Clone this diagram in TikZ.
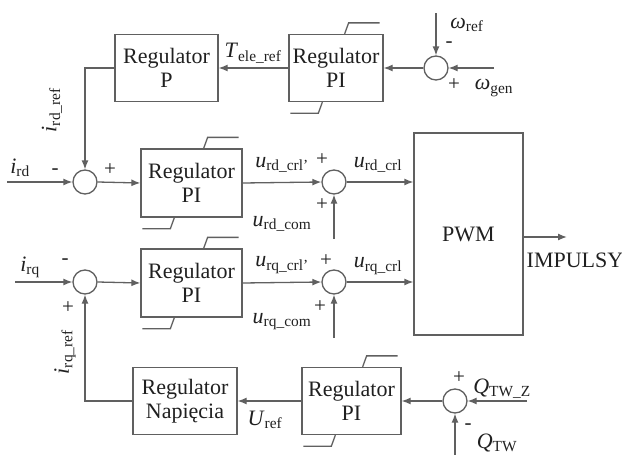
\documentclass[tikz,border=0pt]{standalone}
\usepackage{fontspec}
\setmainfont{Liberation Serif}
\usetikzlibrary{arrows.meta,calc}
\definecolor{ln}{HTML}{606060}
\definecolor{tx}{HTML}{202020}
\begin{document}
\begin{tikzpicture}[x=1pt,y=-1pt,
  every node/.style={text=tx,font=\fontsize{22}{24}\selectfont},
  box/.style={draw=ln,line width=1.3pt,rectangle,align=center,inner sep=0pt},
  sumj/.style={draw=ln,line width=1.3pt,circle,minimum size=24pt,inner sep=0pt},
  arr/.style={draw=ln,line width=1.3pt,-{Latex[length=9pt,width=7pt]}},
  ln/.style={draw=ln,line width=1.3pt},
  lbl/.style={inner sep=0pt},
  sgn/.style={inner sep=0pt,font=\fontsize{21}{22}\selectfont}]
\useasboundingbox (0,0) rectangle (622,455);
% blocks
\node[box,minimum width=103pt,minimum height=67pt] (P) at (166.5,68) {Regulator\\P};
\node[box,minimum width=94pt,minimum height=67pt] (PI1) at (336,68) {Regulator\\PI};
\node[sumj] (S1) at (436,68) {};
\node[sumj] (S2) at (85,182) {};
\node[box,minimum width=101pt,minimum height=68pt] (PI2) at (191.5,183) {Regulator\\PI};
\node[sumj] (S3) at (334,182) {};
\node[box,minimum width=109pt,minimum height=202pt] (PWM) at (468.5,234) {PWM};
\node[sumj] (S4) at (85,282) {};
\node[box,minimum width=101pt,minimum height=68pt] (PI3) at (191.5,283) {Regulator\\PI};
\node[sumj] (S5) at (334,282) {};
\node[box,minimum width=104pt,minimum height=67pt] (Nap) at (185,401) {Regulator\\Napięcia};
\node[box,minimum width=99pt,minimum height=67pt] (PI4) at (351.5,401) {Regulator\\PI};
\node[sumj] (S6) at (455,401) {};
% limiters
\foreach \b in {PI1,PI2,PI3,PI4}{
  \draw[ln] ($(\b.north east)+(-39,0)$) -- ++(4,-11) -- ($(\b.north east)+(-4,-11)$);
  \draw[ln] ($(\b.south west)+(2,11)$) -- ++(28,0) -- ++(4,-11);
}
% free ends
\coordinate (wref) at (436,13);
\coordinate (wgen) at (494,68);
\coordinate (ird) at (7,182);
\coordinate (urdcom) at (334,239);
\coordinate (imp) at (567,237);
\coordinate (irq) at (15,282);
\coordinate (urqcom) at (334,338);
\coordinate (qtwz) at (527,401);
\coordinate (qtw) at (455,455);
% connectors
\draw[arr] (wref) -- (S1.north);
\draw[arr] (wgen) -- (S1.east);
\draw[arr] (S1.west) -- (PI1.east);
\draw[arr] (PI1.west) -- (P.east);
\draw[arr] (P.west) -| (S2.north);
\draw[arr] (ird) -- (S2.west);
\draw[arr] (S2.east) -- (PI2.west);
\draw[arr] (PI2.east) -- (S3.west);
\draw[arr] (urdcom) -- (S3.south);
\draw[arr] (S3.east) -- (S3.east -| PWM.west);
\draw[arr] (imp -| PWM.east) -- (imp);
\draw[arr] (irq) -- (S4.west);
\draw[arr] (Nap.west) -| (S4.south);
\draw[arr] (S4.east) -- (PI3.west);
\draw[arr] (PI3.east) -- (S5.west);
\draw[arr] (urqcom) -- (S5.south);
\draw[arr] (S5.east) -- (S5.east -| PWM.west);
\draw[arr] (PI4.west) -- (Nap.east);
\draw[arr] (S6.west) -- (PI4.east);
\draw[arr] (qtwz) -- (S6.east);
\draw[arr] (qtw) -- (S6.south);
% labels
\node[lbl] (lT) at (253,53) {\textit{T}\textsubscript{ele\_ref}};
\node[lbl] (lwr) at (467,25) {\textit{ω}\textsubscript{ref}};
\node[sgn] (m1) at (449,45) {-};
\node[lbl] (lwg) at (494,88) {\textit{ω}\textsubscript{gen}};
\node[sgn] (p1) at (454,85) {+};
\node[lbl] (lird) at (20,168) {\textit{i}\textsubscript{rd}};
\node[sgn] (m2) at (55,172) {-};
\node[sgn] (p2) at (110,170) {+};
\node[lbl,rotate=90] (lirdref) at (52,110) {\textit{i}\textsubscript{rd\_ref}};
\node[lbl] (lu1) at (282,165) {\textit{u}\textsubscript{rd\_crl'}};
\node[sgn] (p3) at (322,160) {+};
\node[lbl] (lu2) at (282,224) {\textit{u}\textsubscript{rd\_com}};
\node[sgn] (p4) at (322,205) {+};
\node[lbl] (lu3) at (378,165) {\textit{u}\textsubscript{rd\_crl}};
\node[lbl] (limp) at (575,260) {IMPULSY};
\node[lbl] (lirq) at (30,267) {\textit{i}\textsubscript{rq}};
\node[sgn] (m3) at (65,262) {-};
\node[sgn] (p5) at (68,308) {+};
\node[lbl,rotate=90] (lirqref) at (65,352) {\textit{i}\textsubscript{rq\_ref}};
\node[lbl] (lu4) at (282,265) {\textit{u}\textsubscript{rq\_crl'}};
\node[sgn] (p6) at (326,261) {+};
\node[lbl] (lu5) at (282,322) {\textit{u}\textsubscript{rq\_com}};
\node[sgn] (p7) at (320,307) {+};
\node[lbl] (lu6) at (378,266) {\textit{u}\textsubscript{rq\_crl}};
\node[lbl] (lU) at (265,420) {\textit{U}\textsubscript{ref}};
\node[lbl] (lQz) at (502,389) {\textit{Q}\textsubscript{TW\_Z}};
\node[sgn] (p8) at (459,378) {+};
\node[sgn] (m4) at (468,427) {-};
\node[lbl] (lQ) at (497,443) {\textit{Q}\textsubscript{TW}};
\end{tikzpicture}
\end{document}
